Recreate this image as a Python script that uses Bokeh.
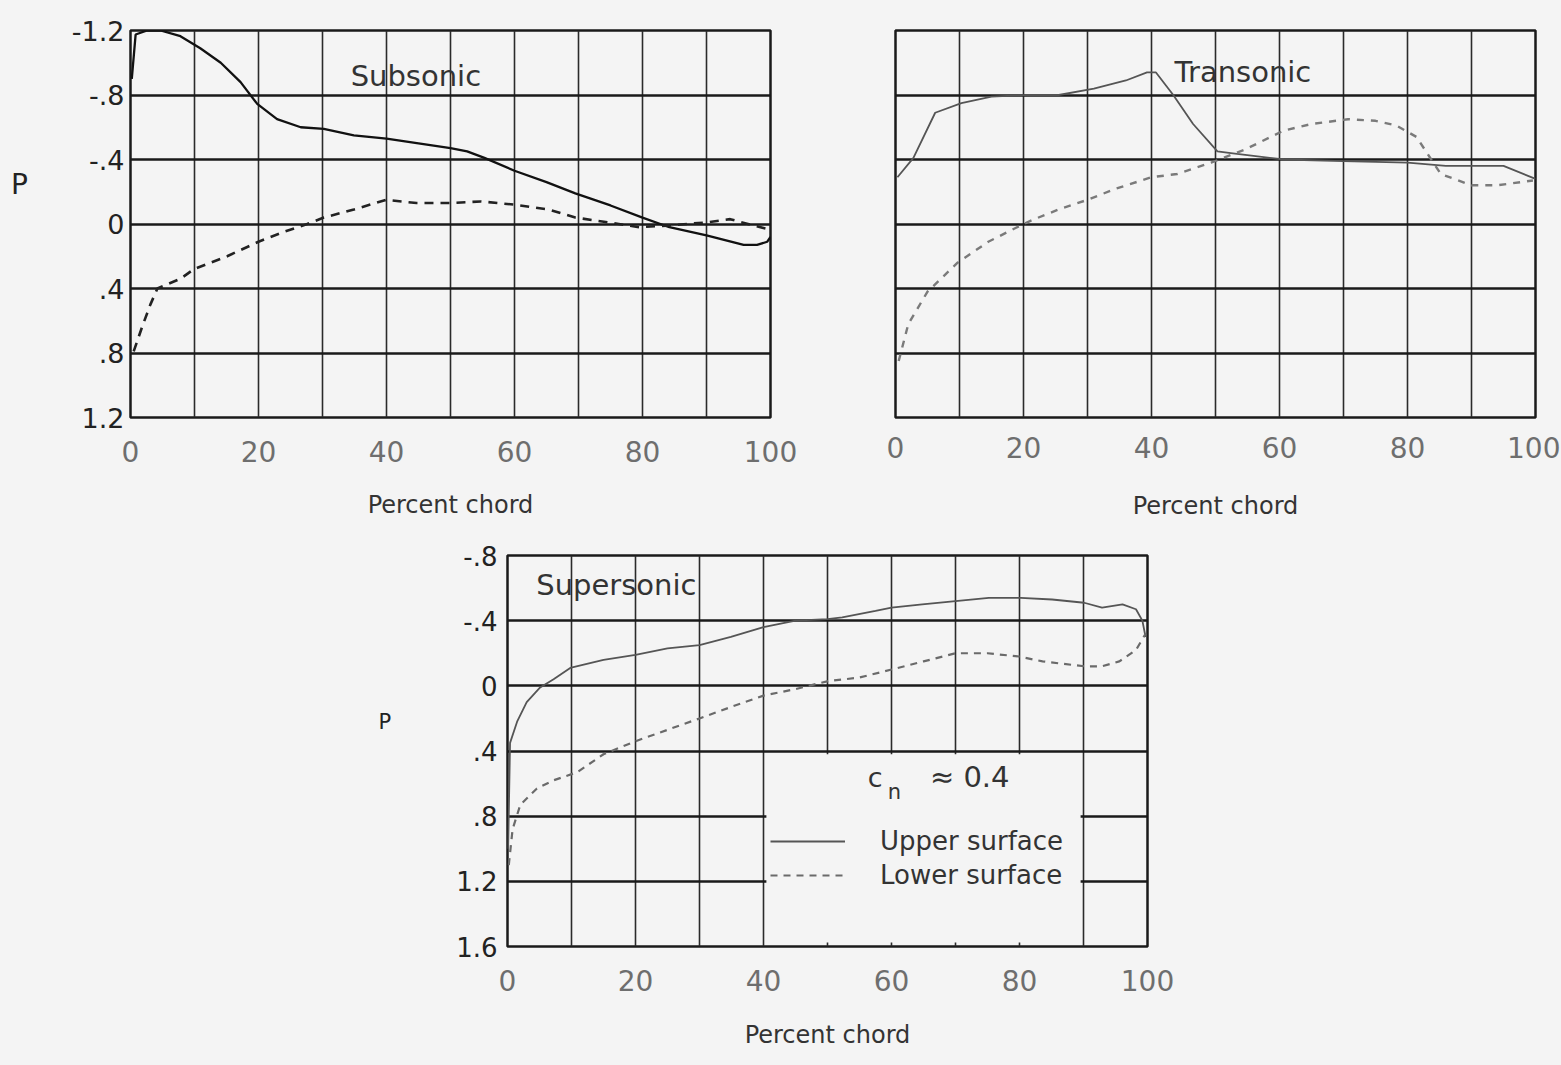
from bokeh.plotting import figure
from bokeh.models import Range1d, FixedTicker, Label, Legend, LegendItem, Spacer
from bokeh.layouts import row, column
from bokeh.embed import file_html
from bokeh.resources import INLINE

# ---------------- data ----------------
x_ticks = [0, 20, 40, 60, 80, 100]
x_grid = [0, 10, 20, 30, 40, 50, 60, 70, 80, 90, 100]

y_ticks_top = [-1.2, -0.8, -0.4, 0, 0.4, 0.8, 1.2]
y_labels_top = ["-1.2", "-.8", "-.4", "0", ".4", ".8", "1.2"]
y_ticks_sup = [-0.8, -0.4, 0, 0.4, 0.8, 1.2, 1.6]
y_labels_sup = ["-.8", "-.4", "0", ".4", ".8", "1.2", "1.6"]

# Subsonic
sub_upper_x = [0.2, 0.8, 2.6, 4.7, 7.8, 10.9, 14.1, 17.2, 19.8, 22.9, 26.6, 30.2, 34.9, 40, 45,
               50, 52.6, 55.3, 60, 65, 69.5, 75, 80, 84.2, 90, 95.8, 97.9, 99.5, 100]
sub_upper_p = [-0.9, -1.175, -1.2, -1.2, -1.165, -1.09, -1.0, -0.88, -0.745, -0.65, -0.60, -0.59,
               -0.55, -0.53, -0.50, -0.47, -0.45, -0.41, -0.33, -0.26, -0.19, -0.115, -0.04, 0.02,
               0.07, 0.13, 0.13, 0.11, 0.08]
sub_lower_x = [0.5, 1.8, 3.1, 4.2, 7.8, 9.9, 15.1, 20, 23.9, 27.6, 30.2, 34.9, 40, 44.7, 50, 54.7,
               60, 65.3, 69.5, 74.7, 79.5, 83.7, 90, 93.7, 97.4, 99.5, 100]
sub_lower_p = [0.79, 0.64, 0.50, 0.40, 0.34, 0.28, 0.20, 0.11, 0.05, 0.0, -0.04, -0.09, -0.15,
               -0.13, -0.13, -0.14, -0.12, -0.09, -0.04, -0.01, 0.02, 0.01, -0.01, -0.03, 0.01,
               0.03, 0.05]

# Transonic
tra_upper_x = [0.3, 2.8, 6.2, 10.3, 15, 20.7, 25.5, 31, 36, 39.3, 40.7, 43.4, 46.5, 50.3, 52.4,
               60.7, 70, 80, 86, 95, 100]
tra_upper_p = [-0.29, -0.41, -0.69, -0.75, -0.79, -0.80, -0.80, -0.84, -0.89, -0.94, -0.94, -0.80,
               -0.62, -0.45, -0.44, -0.40, -0.39, -0.38, -0.36, -0.36, -0.28]
tra_lower_x = [0.5, 2, 5, 9.7, 14.5, 20, 21.7, 25.5, 30, 34.5, 40, 44, 49.3, 54.5, 60.7, 65, 70.7,
               75, 78.3, 81.4, 85.2, 90, 94, 99.6]
tra_lower_p = [0.85, 0.62, 0.42, 0.24, 0.11, 0.0, -0.03, -0.09, -0.15, -0.22, -0.29, -0.31, -0.38,
               -0.46, -0.58, -0.62, -0.65, -0.64, -0.61, -0.54, -0.31, -0.24, -0.24, -0.27]

# Supersonic
sup_upper_x = [0.1, 0.4, 1.5, 3, 5.1, 7.2, 9.8, 15, 20, 25, 30, 34.9, 40, 45, 50, 52.3, 57.5, 60,
               64.8, 70, 75.2, 80.2, 85.1, 90.1, 92.9, 96.1, 98.2, 99.2, 99.7]
sup_upper_p = [1.0, 0.35, 0.22, 0.10, 0.01, -0.04, -0.11, -0.16, -0.19, -0.23, -0.25, -0.30, -0.36,
               -0.40, -0.41, -0.42, -0.46, -0.48, -0.50, -0.52, -0.54, -0.54, -0.53, -0.51, -0.48,
               -0.50, -0.47, -0.40, -0.30]
sup_lower_x = [0.2, 0.8, 2, 4.6, 7.2, 10.9, 15, 20, 25, 30, 34.9, 40, 45, 50.2, 54.9, 60, 65, 70,
               75, 79.9, 83.6, 90.1, 92.9, 95.6, 98.2, 99.7]
sup_lower_p = [1.1, 0.88, 0.73, 0.63, 0.58, 0.53, 0.42, 0.34, 0.27, 0.20, 0.13, 0.06, 0.02, -0.03,
               -0.05, -0.10, -0.15, -0.20, -0.20, -0.18, -0.15, -0.12, -0.12, -0.15, -0.22, -0.32]

# ---------------- styling ----------------
FONT = "DejaVu Sans"
BG = "#f4f4f4"
INK = "#1a1a1a"


def make_fig(width, height, y_lo, y_hi, left, right, top, bottom, yticks, ylabels, show_y=True):
    p = figure(width=width, height=height, x_range=Range1d(0, 100), y_range=Range1d(y_hi, y_lo),
               output_backend="svg", toolbar_location=None,
               min_border_left=left, min_border_right=right,
               min_border_top=top, min_border_bottom=bottom,
               background_fill_color=BG, border_fill_color=BG)
    p.outline_line_color = INK
    p.outline_line_width = 2.5
    # x axis
    xa = p.xaxis[0]
    xa.ticker = FixedTicker(ticks=x_ticks)
    xa.axis_line_color = None
    xa.major_tick_line_color = None
    xa.minor_tick_line_color = None
    xa.major_tick_out = 0
    xa.major_tick_in = 0
    xa.major_label_standoff = 23
    xa.major_label_text_font = FONT
    xa.major_label_text_font_size = "28px"
    xa.major_label_text_color = "#6e6e6e"
    xa.axis_label = "Percent chord"
    xa.axis_label_text_font = FONT
    xa.axis_label_text_font_style = "normal"
    xa.axis_label_text_font_size = "24px"
    xa.axis_label_text_color = "#333333"
    xa.axis_label_standoff = 26
    # y axis
    ya = p.yaxis[0]
    ya.ticker = FixedTicker(ticks=yticks)
    ya.major_label_overrides = dict(zip(yticks, ylabels))
    ya.axis_line_color = None
    ya.major_tick_line_color = None
    ya.minor_tick_line_color = None
    ya.major_tick_out = 0
    ya.major_tick_in = 0
    ya.major_label_standoff = 6
    ya.major_label_text_font = FONT
    ya.major_label_text_font_size = "27px"
    ya.major_label_text_color = "#222222"
    ya.major_label_orientation = "horizontal"
    ya.axis_label_orientation = "horizontal"
    ya.axis_label_text_font = FONT
    ya.axis_label_text_font_style = "normal"
    ya.axis_label_text_color = "#222222"
    ya.visible = show_y
    # grids
    p.xgrid.ticker = FixedTicker(ticks=x_grid)
    p.xgrid.grid_line_color = "#2a2a2a"
    p.xgrid.grid_line_width = 1.6
    p.ygrid.ticker = FixedTicker(ticks=yticks)
    p.ygrid.grid_line_color = INK
    p.ygrid.grid_line_width = 2.6
    return p


def title(p, x, y, text, size="29px"):
    p.add_layout(Label(x=x, y=y, text=text, text_font=FONT, text_font_size=size,
                       text_color="#333333", text_baseline="middle", text_align="left"))


# ---- Subsonic ----
p1 = make_fig(870, 539, -1.2, 1.2, 130, 100, 28, 122, y_ticks_top, y_labels_top)
p1.yaxis[0].axis_label = "P\n\n"
p1.yaxis[0].axis_label_text_font_size = "28px"
p1.yaxis[0].axis_label_standoff = 41
p1.line(sub_upper_x, sub_upper_p, line_color="#111111", line_width=2.3)
p1.line(sub_lower_x, sub_lower_p, line_color="#222222", line_width=2.6, line_dash="9 7")
title(p1, 34.4, -0.92, "Subsonic")

# ---- Transonic ----
p2 = make_fig(690, 539, -1.2, 1.2, 25, 25, 30, 115, y_ticks_top, y_labels_top, show_y=False)
p2.xaxis[0].major_label_standoff = 19
p2.xaxis[0].axis_label_standoff = 31
p2.line(tra_upper_x, tra_upper_p, line_color="#555555", line_width=1.8)
p2.line(tra_lower_x, tra_lower_p, line_color="#7a7a7a", line_width=2.4, line_dash="7 7")
title(p2, 43.6, -0.94, "Transonic")

# ---- Supersonic ----
p3 = make_fig(847, 519, -0.8, 1.6, 147, 60, 16, 112, y_ticks_sup, y_labels_sup)
p3.yaxis[0].major_label_standoff = 10
p3.yaxis[0].major_label_text_font_size = "26px"
p3.yaxis[0].axis_label = "P\n\n"
p3.yaxis[0].axis_label_text_font_size = "21px"
p3.yaxis[0].axis_label_standoff = 62
p3.xaxis[0].axis_label_standoff = 27
# blank legend panel (interrupts the grid)
p3.quad(left=40.45, right=89.55, top=0.42, bottom=1.575, fill_color=BG, line_color=None)
r_up = p3.line(sup_upper_x, sup_upper_p, line_color="#555555", line_width=1.8)
r_lo = p3.line(sup_lower_x, sup_lower_p, line_color="#6a6a6a", line_width=2.2, line_dash="7 6")
title(p3, 4.5, -0.62, "Supersonic")

p3.add_layout(Label(x=56.3, y=0.56, text="c", text_font=FONT, text_font_size="27px",
                    text_color="#333333", text_baseline="middle"))
p3.add_layout(Label(x=59.4, y=0.65, text="n", text_font=FONT, text_font_size="21px",
                    text_color="#333333", text_baseline="middle"))
p3.add_layout(Label(x=66.0, y=0.56, text="\u2248 0.4", text_font=FONT, text_font_size="29px",
                    text_color="#333333", text_baseline="middle"))

legend = Legend(items=[LegendItem(label="Upper surface", renderers=[r_up]),
                       LegendItem(label="Lower surface", renderers=[r_lo])],
                location=(263, 56), orientation="vertical",
                background_fill_alpha=0, border_line_color=None,
                label_text_font=FONT, label_text_font_size="26px", label_text_color="#333333",
                glyph_width=75, glyph_height=22, label_height=24, label_standoff=35,
                spacing=4, padding=0, margin=0)
p3.add_layout(legend)

layout = column(row(p1, p2), row(Spacer(width=360, height=519), p3))

html = file_html(layout, INLINE, title="Pressure distributions")
html = html.replace("</head>", "<style>body{background-color:%s;}</style></head>" % BG, 1)
open("out.html", "w").write(html)
